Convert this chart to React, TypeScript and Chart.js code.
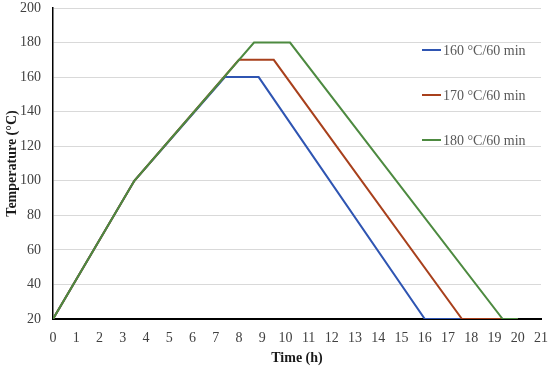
import React, { useEffect, useRef } from "react";
import { Chart, registerables } from "chart.js";

Chart.register(...registerables);

const seriesLabels = ["160 °C/60 min", "170 °C/60 min", "180 °C/60 min"];
const seriesColors = ["#2F55B2", "#A8401C", "#4D8A40"];

const time160 = [0, 3.5, 7.4, 8.85, 16, 20];
const temp160 = [20, 100, 160, 160, 20, 20];
const time170 = [0, 3.5, 8.0, 9.5, 17.6, 20];
const temp170 = [20, 100, 170, 170, 20, 20];
const time180 = [0, 3.5, 8.65, 10.2, 19.35, 20];
const temp180 = [20, 100, 180, 180, 20, 20];

const xTitle = "Time (h)";
const yTitle = "Temperature (°C)";

const FONT = '"Liberation Serif", "Times New Roman", serif';

const toPoints = (xs: number[], ys: number[]) => xs.map((x, i) => ({ x, y: ys[i] }));

const legendPlugin = {
  id: "customLegend",
  afterDraw(chart: any) {
    const ctx = chart.ctx;
    const area = chart.chartArea;
    ctx.save();
    ctx.font = `14px ${FONT}`;
    ctx.textBaseline = "middle";
    ctx.textAlign = "left";
    seriesLabels.forEach((label, i) => {
      const y = area.top + 42 + i * 45;
      const x0 = area.right - 119;
      ctx.strokeStyle = seriesColors[i];
      ctx.lineWidth = 2;
      ctx.beginPath();
      ctx.moveTo(x0, y);
      ctx.lineTo(x0 + 19, y);
      ctx.stroke();
      ctx.fillStyle = "#595959";
      ctx.fillText(label, x0 + 21, y + 1);
    });
    ctx.restore();
  },
};

export default function App() {
  const canvasRef = useRef<HTMLCanvasElement | null>(null);

  useEffect(() => {
    if (!canvasRef.current) return;
    const series = [
      toPoints(time160, temp160),
      toPoints(time170, temp170),
      toPoints(time180, temp180),
    ];
    const chart = new Chart(canvasRef.current, {
      type: "line",
      data: {
        datasets: series.map((data, i) => ({
          label: seriesLabels[i],
          data,
          borderColor: seriesColors[i],
          backgroundColor: seriesColors[i],
          borderWidth: 2,
          pointRadius: 0,
          tension: 0,
          fill: false,
          order: 2 - i,
        })),
      },
      options: {
        responsive: false,
        animation: false,
        layout: { padding: { top: 8, right: 9, left: 0, bottom: 0 } },
        plugins: {
          legend: { display: false },
          tooltip: { enabled: false },
        },
        scales: {
          x: {
            type: "linear",
            min: 0,
            max: 21,
            afterFit: (scale: any) => {
              scale.height = 49;
              scale.paddingLeft = 0;
              scale.paddingRight = 0;
            },
            ticks: {
              stepSize: 1,
              padding: 11,
              color: "#404040",
              font: { family: FONT, size: 14 },
              maxRotation: 0,
              autoSkip: false,
            },
            grid: { display: false, drawTicks: false },
            border: { display: true, color: "#000000", width: 2 },
            title: {
              display: true,
              text: xTitle,
              color: "#1a1a1a",
              font: { family: FONT, size: 14, weight: "bold" },
              padding: { top: 0, bottom: 1 },
            },
          },
          y: {
            min: 20,
            max: 200,
            afterFit: (scale: any) => {
              scale.width = 53;
              scale.paddingTop = 0;
              scale.paddingBottom = 0;
            },
            ticks: {
              stepSize: 20,
              padding: 12,
              color: "#404040",
              font: { family: FONT, size: 14 },
            },
            grid: { color: "#D9D9D9", lineWidth: 1, drawTicks: false },
            border: { display: true, color: "#000000", width: 1.5 },
            title: {
              display: true,
              text: yTitle,
              color: "#1a1a1a",
              font: { family: FONT, size: 14, weight: "bold" },
              padding: { top: 4, bottom: 0 },
            },
          },
        },
      },
      plugins: [legendPlugin],
    });
    return () => chart.destroy();
  }, []);

  return (
    <div style={{ position: "fixed", left: 0, top: 0, width: 550, height: 368, background: "#fff" }}>
      <canvas ref={canvasRef} width={550} height={368} style={{ display: "block" }} />
    </div>
  );
}
